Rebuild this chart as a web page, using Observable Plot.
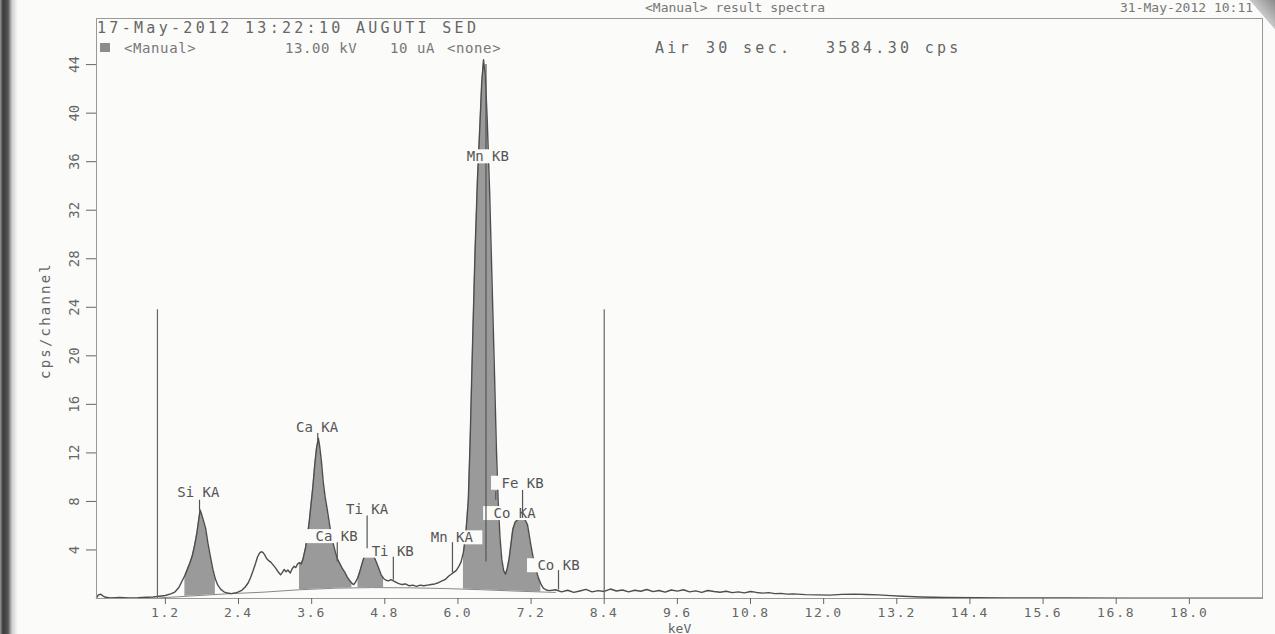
<!DOCTYPE html>
<html><head><meta charset="utf-8">
<script src="https://cdn.jsdelivr.net/npm/d3@7"></script>
<script src="https://cdn.jsdelivr.net/npm/@observablehq/plot@0.6"></script>
<style>
body{margin:0;background:#fbfbf9;}
#wrap{position:relative;width:1275px;height:634px;overflow:hidden;font-family:"DejaVu Sans Mono",monospace;color:#666;background:#fbfbf9;}
.t{position:absolute;white-space:pre;font-size:15px;letter-spacing:3.3px;line-height:1;color:#666;}
.t2{position:absolute;white-space:pre;font-size:14px;letter-spacing:0.6px;line-height:1;color:#777;}
.t3{position:absolute;white-space:pre;font-size:13px;letter-spacing:0;line-height:1;color:#777;}
#edge{position:absolute;left:0;top:0;width:18px;height:634px;background:linear-gradient(to right,#999 0,#3a3a3a 3px,#555 8px,#cfcfcf 12px,rgba(250,250,250,0) 18px);}
#corner{position:absolute;right:0;top:0;width:26px;height:30px;background:linear-gradient(to bottom left,#8a8a8a 0,#c8c8c8 48%,rgba(0,0,0,0) 50%);}
</style></head><body><div id="wrap"></div>
<script>
// ---- data ----
const energy = [0.07,0.10,0.14,0.18,0.22,0.30,0.45,0.60,0.75,0.90,1.00,1.10,1.20,1.30,1.36,1.42,1.48,1.52,1.56,1.60,1.64,1.68,1.72,1.75,1.77,1.79,1.82,1.86,1.90,1.94,1.98,2.02,2.06,2.11,2.16,2.22,2.28,2.34,2.40,2.46,2.51,2.56,2.60,2.64,2.68,2.71,2.74,2.77,2.80,2.83,2.86,2.90,2.93,2.97,3.01,3.05,3.09,3.12,3.15,3.18,3.21,3.25,3.28,3.31,3.34,3.37,3.40,3.43,3.46,3.50,3.53,3.56,3.59,3.62,3.65,3.68,3.71,3.73,3.76,3.79,3.82,3.86,3.89,3.92,3.96,3.99,4.02,4.06,4.10,4.14,4.18,4.22,4.26,4.29,4.32,4.36,4.40,4.44,4.48,4.51,4.54,4.58,4.62,4.66,4.70,4.74,4.78,4.82,4.86,4.90,4.94,4.98,5.02,5.08,5.14,5.20,5.26,5.32,5.38,5.44,5.50,5.56,5.62,5.68,5.74,5.80,5.85,5.89,5.93,5.97,6.01,6.05,6.09,6.13,6.17,6.20,6.24,6.28,6.32,6.36,6.39,6.42,6.45,6.48,6.52,6.56,6.60,6.63,6.66,6.69,6.72,6.75,6.78,6.81,6.84,6.87,6.90,6.94,6.98,7.02,7.06,7.10,7.14,7.17,7.20,7.24,7.28,7.32,7.36,7.40,7.45,7.50,7.60,7.70,7.80,7.90,8.00,8.10,8.20,8.30,8.40,8.50,8.60,8.70,8.80,8.90,9.00,9.10,9.20,9.30,9.40,9.50,9.60,9.70,9.80,9.90,10.0,10.1,10.2,10.3,10.4,10.5,10.6,10.7,10.8,10.9,11.0,11.1,11.2,11.3,11.4,11.5,11.7,11.9,12.1,12.3,12.5,12.7,12.9,13.1,13.3,13.6,14.0,14.5,15.0,16.0,17.0,18.0,19.2];
const counts = [0.05,0.30,0.35,0.20,0.10,0.05,0.08,0.05,0.06,0.10,0.12,0.18,0.25,0.40,0.55,0.90,1.50,1.90,2.40,2.90,3.50,4.40,5.50,6.60,7.30,7.00,6.50,5.80,4.50,3.40,2.40,1.60,1.10,0.75,0.55,0.45,0.40,0.45,0.55,0.70,0.95,1.30,1.75,2.30,2.90,3.40,3.70,3.85,3.80,3.60,3.30,3.10,3.00,2.75,2.50,2.20,1.95,2.15,2.40,2.20,2.35,2.10,2.45,2.65,2.55,2.85,2.95,2.85,3.30,4.20,5.20,6.30,7.80,9.20,11.0,12.4,13.2,12.6,11.3,9.6,8.4,7.2,6.2,5.3,4.4,3.8,3.3,2.9,2.5,2.2,1.8,1.5,1.25,1.15,1.35,1.75,2.40,3.10,3.70,4.10,4.00,3.80,3.50,3.00,2.50,1.95,1.65,1.50,1.45,1.55,1.45,1.35,1.25,1.15,1.20,1.05,1.10,1.00,1.10,1.05,1.10,1.15,1.20,1.30,1.45,1.60,1.85,2.00,2.15,2.30,2.60,3.00,3.80,5.40,8.10,13.0,21.0,28.5,34.5,39.0,42.5,44.4,43.0,39.5,33.5,26.0,18.5,12.5,8.0,5.0,3.2,2.3,2.0,2.5,3.3,4.5,5.7,6.3,6.5,6.6,6.6,6.5,6.1,5.2,4.3,3.2,2.4,1.7,1.2,0.85,0.70,0.65,0.72,0.55,0.68,0.50,0.62,0.75,0.55,0.65,0.58,0.78,0.62,0.70,0.55,0.68,0.60,0.74,0.57,0.66,0.52,0.70,0.61,0.72,0.55,0.63,0.50,0.66,0.58,0.52,0.60,0.48,0.55,0.46,0.58,0.50,0.44,0.48,0.40,0.42,0.36,0.38,0.32,0.30,0.28,0.34,0.36,0.33,0.30,0.24,0.18,0.12,0.08,0.06,0.05,0.04,0.03,0.03,0.02];

// smooth background under the peaks
const bgEnergy = [1.10,1.60,2.20,2.80,3.40,4.00,4.60,5.20,5.80,6.40,7.00,7.60];
const bgCounts = [0.05,0.20,0.38,0.52,0.72,0.85,0.90,0.88,0.82,0.72,0.60,0.50];

// shaded peak regions (keV)
const regionStart = [1.50,3.38,4.33,6.06];
const regionEnd   = [2.04,4.27,4.78,7.38];

// peak identification labels
const lineNames  = ["Si KA","Ca KA","Ca KB","Ti KA","Ti KB","Mn KA","Mn KB","Co KA","Fe KB","Co KB"];
const lineEnergy = [1.74,3.69,4.01,4.51,4.93,5.90,6.49,6.93,7.06,7.65];
const labelCps   = [8.7,14.1,5.1,7.3,3.9,5.0,36.4,7.0,9.5,2.7];

// marker ticks (keV, from, to)
const markerEnergy = [1.76,3.70,4.02,4.51,4.94,5.91,6.46,6.46,6.62,7.06,7.65];
const markerFrom   = [7.2,13.0,3.0,4.1,1.5,2.1,3.0,37.0,8.1,6.6,0.7];
const markerTo     = [8.1,13.6,4.6,6.8,3.4,4.6,35.8,44.0,8.8,8.9,2.3];

// region-of-interest bars
const roiEnergy = [1.07,8.40];
const roiTop = [23.8,23.8];

const xTicks = [1.2,2.4,3.6,4.8,6.0,7.2,8.4,9.6,10.8,12.0,13.2,14.4,15.6,16.8,18.0];
const yTicks = [4,8,12,16,20,24,28,32,36,40,44];

// ---- tables ----
const spec = energy.map((e,i)=>({e, c:counts[i]}));
const bg = bgEnergy.map((e,i)=>({e, c:bgCounts[i]}));
const labels = lineNames.map((n,i)=>({name:n, e:lineEnergy[i], y:labelCps[i]}));
const markers = markerEnergy.map((e,i)=>({e, y1:markerFrom[i], y2:markerTo[i]}));
const roi = roiEnergy.map((e,i)=>({e, top:roiTop[i]}));

const W=1275,H=634,mL=96,mR=13,mT=18,mB=36;
const xDom=[0.07,19.2], yDom=[0,47.8];
const pxPerKeV=(W-mL-mR)/(xDom[1]-xDom[0]);
const pxPerCps=(H-mT-mB)/(yDom[1]-yDom[0]);
const hw=31/pxPerKeV, hh=7/pxPerCps;
const paper="#fbfbf9";

const regionMarks = regionStart.map((s,i)=>Plot.areaY(spec,{
  filter:d=>d.e>=s && d.e<=regionEnd[i], x:"e", y:"c", fill:"#9a9a9a"}));

const plot = Plot.plot({
  width:W, height:H, marginLeft:mL, marginRight:mR, marginTop:mT, marginBottom:mB,
  style:{background:"transparent", fontFamily:"DejaVu Sans Mono, monospace", color:"#666", fontSize:"13px"},
  x:{domain:xDom},
  y:{domain:yDom},
  marks:[
    ...regionMarks,
    Plot.areaY(bg,{x:"e", y:"c", fill:paper}),
    Plot.lineY(bg,{x:"e", y:"c", stroke:"#888", strokeWidth:1}),
    Plot.lineY(spec,{x:"e", y:"c", stroke:"#4d4d4d", strokeWidth:1.4}),
    Plot.rect(labels,{x1:d=>d.e-hw, x2:d=>d.e+hw, y1:d=>d.y-hh, y2:d=>d.y+hh, fill:paper}),
    Plot.text(labels,{x:"e", y:"y", text:"name", fill:"#555", fontSize:14, ariaLabel:"peak-labels"}),
    Plot.ruleX(markers,{x:"e", y1:"y1", y2:"y2", stroke:"#555", strokeWidth:1.2}),
    Plot.ruleX(roi,{x:"e", y1:0, y2:"top", stroke:"#666", strokeWidth:1.2}),
    Plot.frame({stroke:"#999"}),
    Plot.axisX({ticks:xTicks, tickFormat:d=>d.toFixed(1), tickSize:6, tickPadding:3, fontSize:13,
      label:"keV", labelAnchor:"center", labelOffset:34, labelArrow:"none"}),
    Plot.axisY({ticks:yTicks, tickSize:10, tickRotate:-90, tickPadding:8, fontSize:14,
      label:"cps/channel", labelAnchor:"center", labelOffset:56, labelArrow:"none"})
  ]
});
const s=d3.select(plot);
s.selectAll('g[aria-label="peak-labels"] text').attr("letter-spacing","3px");
s.selectAll('g[aria-label="x-axis tick label"] text').attr("letter-spacing","1.8px");
s.selectAll('g[aria-label="y-axis label"] text').attr("letter-spacing","2.2px").attr("font-size","14px").attr("dx","-12");

const wrap=document.getElementById("wrap");
wrap.appendChild(plot);
plot.style.position="absolute"; plot.style.left="0"; plot.style.top="0";

function addText(cls, txt, left, top){
  const d=document.createElement("div"); d.className=cls; d.textContent=txt;
  d.style.left=left+"px"; d.style.top=top+"px"; wrap.appendChild(d); return d;
}
addText("t3","<Manual> result spectra",645,1);
addText("t3","31-May-2012 10:11",1120,1);
addText("t","17-May-2012 13:22:10 AUGUTI SED",97,21);
const sq=document.createElement("div");
sq.style.cssText="position:absolute;left:100px;top:43px;width:10px;height:9px;background:#8c8c8c;";
wrap.appendChild(sq);
addText("t2","<Manual>",124,41);
addText("t2","13.00 kV",285,41);
addText("t2","10 uA",390,41);
addText("t2","<none>",447,41);
addText("t","Air",655,41);
addText("t","30 sec.",706,41);
addText("t","3584.30 cps",826,41);
const edge=document.createElement("div"); edge.id="edge"; wrap.appendChild(edge);
const corner=document.createElement("div"); corner.id="corner"; wrap.appendChild(corner);
</script>
</body></html>
